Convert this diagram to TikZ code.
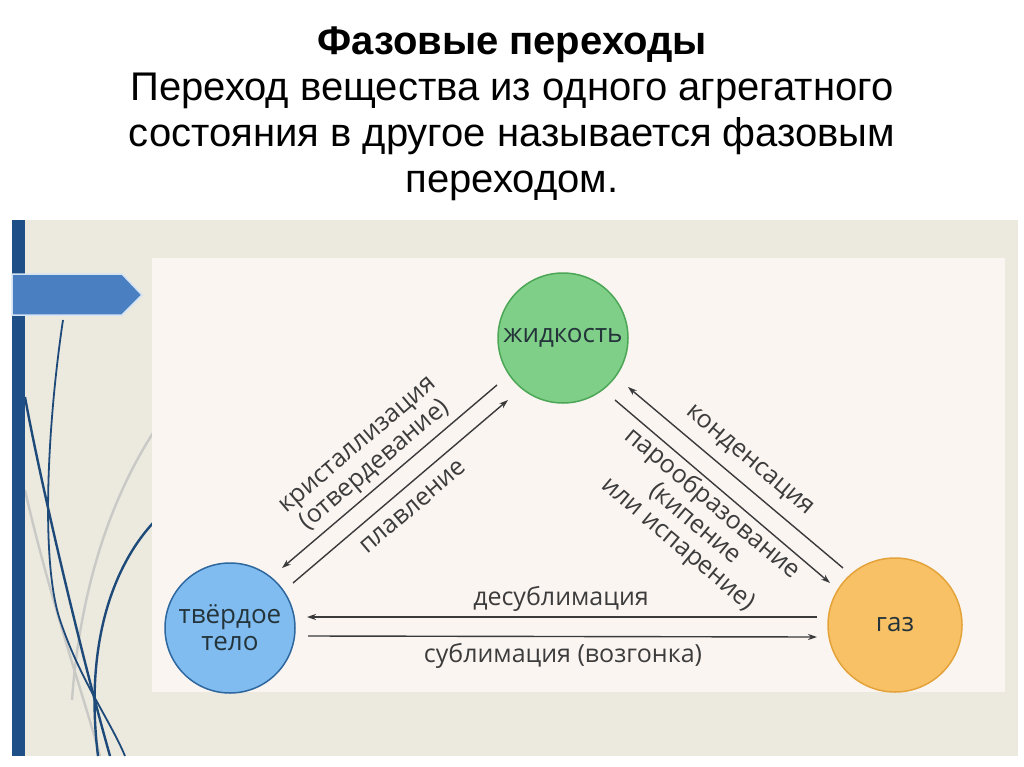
\documentclass[tikz,border=0pt]{standalone}
\usepackage{fontspec}
\setmainfont{Liberation Sans}
\newfontfamily\osans{Open Sans}
\usetikzlibrary{arrows.meta}
\definecolor{bgbeige}{HTML}{ECE9DF}
\definecolor{panel}{HTML}{FBF5F2}
\definecolor{barblue}{HTML}{1F4F87}
\definecolor{tagblue}{HTML}{4A7FC1}
\definecolor{tagedge}{HTML}{D4E4F4}
\definecolor{curvedark}{HTML}{1E4A7A}
\definecolor{curvegray}{HTML}{C9C9C6}
\definecolor{liqfill}{HTML}{7FCF88}
\definecolor{liqedge}{HTML}{4BA656}
\definecolor{solfill}{HTML}{80BCF0}
\definecolor{soledge}{HTML}{2D679E}
\definecolor{gasfill}{HTML}{F8C165}
\definecolor{gasedge}{HTML}{E4A33A}
\definecolor{arrowgray}{HTML}{3A3A3A}
\definecolor{labelgray}{HTML}{3C3C3C}
\definecolor{circtext}{HTML}{24343A}
\tikzset{
  state/.style={circle, draw, line width=1.5pt, minimum size=130pt, inner sep=0pt,
    text=circtext, align=center, font=\osans\fontsize{26}{27}\selectfont},
  arr/.style={draw=arrowgray, line width=1.4pt, -{Stealth[length=9pt,width=6pt]}},
  lbl/.style={text=labelgray, align=center, inner sep=0pt, font=\osans\fontsize{25}{26.5}\selectfont},
  titlestyle/.style={align=center, text=black, inner sep=0pt, font=\fontsize{40}{46}\selectfont},
  dcurve/.style={draw=curvedark, line width=2.4pt},
  gcurve/.style={draw=curvegray, line width=2.4pt}
}
\begin{document}
\begin{tikzpicture}[x=1pt,y=-1pt]
\useasboundingbox (0,0) rectangle (1024,767);
\fill[white] (0,0) rectangle (1024,767);
% background
\fill[bgbeige] (12,220) rectangle (1018,756);
% decorative curves
\draw[gcurve] (25,490) .. controls (50,600) and (85,700) .. (100,756);
\draw[gcurve] (153,433) .. controls (110,500) and (80,590) .. (72,700);
\draw[dcurve] (25,397) .. controls (40,480) and (80,650) .. (110,756);
\draw[dcurve, line width=1.8pt] (63,320) .. controls (48,420) and (40,560) .. (60,620) .. controls (80,680) and (110,720) .. (125,756);
\draw[dcurve] (153,523) .. controls (110,570) and (85,650) .. (98,756);
% left bar and tag
\fill[barblue] (12,220) rectangle (25,756);
\draw[tagedge, line width=1.5pt, fill=tagblue] (12,274) -- (122,274) -- (142,295) -- (122,315) -- (12,315) -- cycle;
% panel
\fill[panel] (152,258) rectangle (1005,692);
% title
\node[titlestyle] (title) at (512,114) {\textbf{Фазовые переходы}\\Переход вещества из одного агрегатного\\состояния в другое называется фазовым\\переходом.};
% states
\node[state, fill=liqfill, draw=liqedge] (liq) at (563,338) {жидкость};
\node[state, fill=solfill, draw=soledge] (sol) at (230,628) {твёрдое\\тело};
\node[state, fill=gasfill, draw=gasedge, minimum size=134pt] (gas) at (895,625) {газ};
% connectors
\draw[arr] ([shift={(-66,47)}]liq.center) -- ([shift={(52,-60)}]sol.center);
\draw[arr] ([shift={(63,-45)}]sol.center) -- ([shift={(-55,62)}]liq.center);
\draw[arr] ([shift={(-52,-57)}]gas.center) -- ([shift={(65,49)}]liq.center);
\draw[arr] ([shift={(52,62)}]liq.center) -- ([shift={(-65,-42)}]gas.center);
\draw[arr] ([shift={(-78,-8)}]gas.center) -- ([shift={(77,-11)}]sol.center);
\draw[arr] ([shift={(78,8)}]sol.center) -- ([shift={(-78,12)}]gas.center);
% labels
\node[lbl, rotate=40.4] (lcryst) at (368,457) {кристаллизация\\(отвердевание)};
\node[lbl, rotate=40.4] (lmelt) at (413,507) {плавление};
\node[lbl, rotate=-40] (lcond) at (749,461) {конденсация};
\node[lbl, rotate=-40] (lvap) at (695,524) {парообразование\\(кипение\\или испарение)};
\node[lbl] (ldesub) at (561,599) {десублимация};
\node[lbl] (lsub) at (563,656) {сублимация (возгонка)};
\end{tikzpicture}
\end{document}
